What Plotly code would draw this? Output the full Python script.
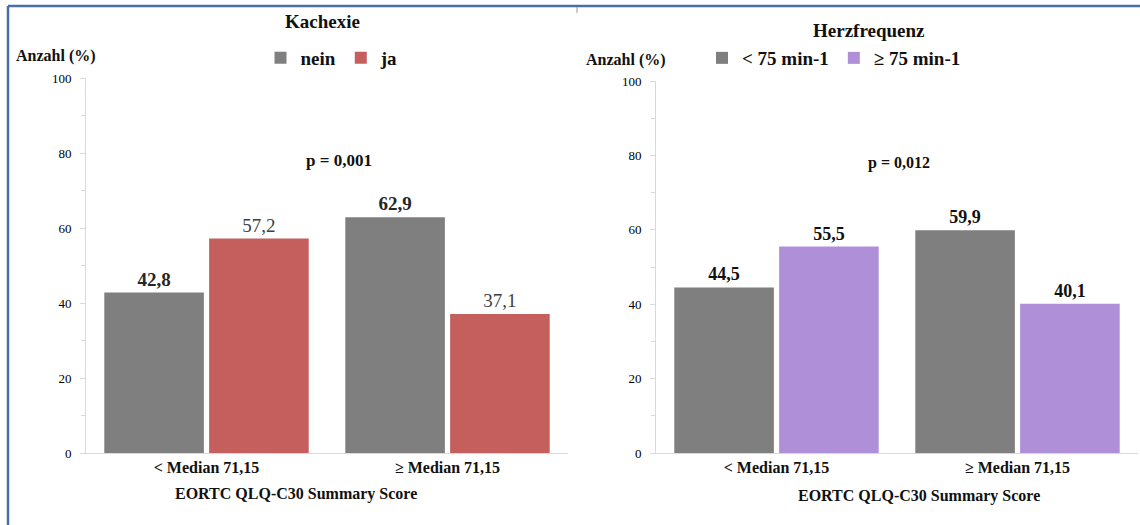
import plotly.graph_objects as go

W, H = 1140, 525

categories = ["< Median 71,15", "≥ Median 71,15"]

kach_names = ["nein", "ja"]
kach_nein = [42.8, 62.9]
kach_ja = [57.2, 37.1]

herz_names = ["< 75 min-1", "≥ 75 min-1"]
herz_lt75 = [44.5, 59.9]
herz_ge75 = [55.5, 40.1]

y_ticks = [0, 20, 40, 60, 80, 100]
y_minor = [10, 30, 50, 70, 90]

FONT = "Liberation Serif, Tinos, 'Times New Roman', 'DejaVu Serif', serif"
GRAY = "#7f7f7f"
RED = "#c45f5e"
PURPLE = "#b08fd9"
AXIS = "#d9d9d9"
TXT = "#111111"


def px_x(p):
    return p / W


def px_y(p):
    return 1 - p / H


fig = go.Figure()

fig.add_trace(go.Bar(x=categories, y=kach_nein, name=kach_names[0], marker_color=GRAY,
                     xaxis="x", yaxis="y", legend="legend",
                     texttemplate="<b>%{y:.1f}</b>", textposition="outside",
                     textfont=dict(size=19, color="#262626", family=FONT), cliponaxis=False))
fig.add_trace(go.Bar(x=categories, y=kach_ja, name=kach_names[1], marker_color=RED,
                     xaxis="x", yaxis="y", legend="legend",
                     texttemplate="%{y:.1f}", textposition="outside",
                     textfont=dict(size=19, color="#404040", family=FONT), cliponaxis=False))
fig.add_trace(go.Bar(x=categories, y=herz_lt75, name=herz_names[0], marker_color=GRAY,
                     xaxis="x2", yaxis="y2", legend="legend2",
                     texttemplate="<b>%{y:.1f}</b>", textposition="outside",
                     textfont=dict(size=18, color=TXT, family=FONT), cliponaxis=False))
fig.add_trace(go.Bar(x=categories, y=herz_ge75, name=herz_names[1], marker_color=PURPLE,
                     xaxis="x2", yaxis="y2", legend="legend2",
                     texttemplate="<b>%{y:.1f}</b>", textposition="outside",
                     textfont=dict(size=18, color=TXT, family=FONT), cliponaxis=False))

xaxis_common = dict(showline=True, linecolor=AXIS, linewidth=1, ticks="", showgrid=False,
                    zeroline=False,
                    tickfont=dict(family=FONT, size=16, color=TXT),
                    tickprefix="<b>", ticksuffix="</b>", fixedrange=True, automargin=False)
yaxis_common = dict(range=[0, 100], tickvals=y_ticks, showline=True, linecolor=AXIS, linewidth=1,
                    ticks="outside", ticklen=5, tickcolor=AXIS, showgrid=False, zeroline=False,
                    tickfont=dict(family=FONT, size=13, color="#000000"),
                    tickprefix="<b>", ticksuffix="</b>", ticklabelstandoff=6,
                    minor=dict(tickvals=y_minor, ticks="outside", ticklen=4, tickcolor=AXIS),
                    fixedrange=True, automargin=False)

fig.update_layout(
    template="none",
    width=W, height=H, autosize=False,
    margin=dict(l=0, r=0, t=0, b=0, autoexpand=False),
    paper_bgcolor="white", plot_bgcolor="white",
    separators=",.",
    barmode="group", bargap=0.13, bargroupgap=0.05,
    font=dict(family=FONT, color=TXT),
    xaxis=dict(domain=[px_x(86), px_x(568)], anchor="y", **xaxis_common),
    yaxis=dict(domain=[px_y(453), px_y(78)], anchor="x", **yaxis_common),
    xaxis2=dict(domain=[px_x(656), px_x(1138)], anchor="y2", **xaxis_common),
    yaxis2=dict(domain=[px_y(453), px_y(81)], anchor="x2", **yaxis_common),
    legend=dict(orientation="h", x=px_x(332), xanchor="center", y=px_y(58), yanchor="middle",
                font=dict(family=FONT, size=19, color=TXT), bgcolor="rgba(0,0,0,0)",
                itemclick=False, itemdoubleclick=False, tracegroupgap=0),
    legend2=dict(orientation="h", x=px_x(834), xanchor="center", y=px_y(58), yanchor="middle",
                 font=dict(family=FONT, size=19, color=TXT), bgcolor="rgba(0,0,0,0)",
                 itemclick=False, itemdoubleclick=False, tracegroupgap=0),
    showlegend=True,
)

# make legend text bold
for tr in fig.data:
    tr.name = f"<b>{tr.name}</b>"


def ann(text, x, y, size, xanchor="center"):
    fig.add_annotation(text=text, x=px_x(x), y=px_y(y), xref="paper", yref="paper",
                       xanchor=xanchor, yanchor="middle", showarrow=False,
                       font=dict(family=FONT, size=size, color=TXT))


ann("<b>Kachexie</b>", 322, 22, 19)
ann("<b>Herzfrequenz</b>", 869, 30, 19)
ann("<b>Anzahl (%)</b>", 14, 56, 16, "left")
ann("<b>Anzahl (%)</b>", 584, 60, 16, "left")
ann("<b>p = 0,001</b>", 339, 160, 17)
ann("<b>p = 0,012</b>", 899, 163, 16)
ann("<b>EORTC QLQ-C30 Summary Score</b>", 296, 494, 16)
ann("<b>EORTC QLQ-C30 Summary Score</b>", 919, 496, 16)

# frame lines
BLUE = "#4a6fa5"
fig.add_shape(type="line", xref="paper", yref="paper", x0=px_x(8), x1=px_x(8), y0=0, y1=px_y(6),
              line=dict(color=BLUE, width=2.5))
fig.add_shape(type="line", xref="paper", yref="paper", x0=px_x(8), x1=1, y0=px_y(6), y1=px_y(6),
              line=dict(color=BLUE, width=2.5))
fig.add_shape(type="line", xref="paper", yref="paper", x0=px_x(577), x1=px_x(577), y0=px_y(7), y1=px_y(13),
              line=dict(color="#999999", width=1))

fig.write_html("out.html", config={"displayModeBar": False},
               post_script="document.body.style.margin='0';document.body.style.padding='0';"
                           "document.documentElement.style.overflow='hidden';")
